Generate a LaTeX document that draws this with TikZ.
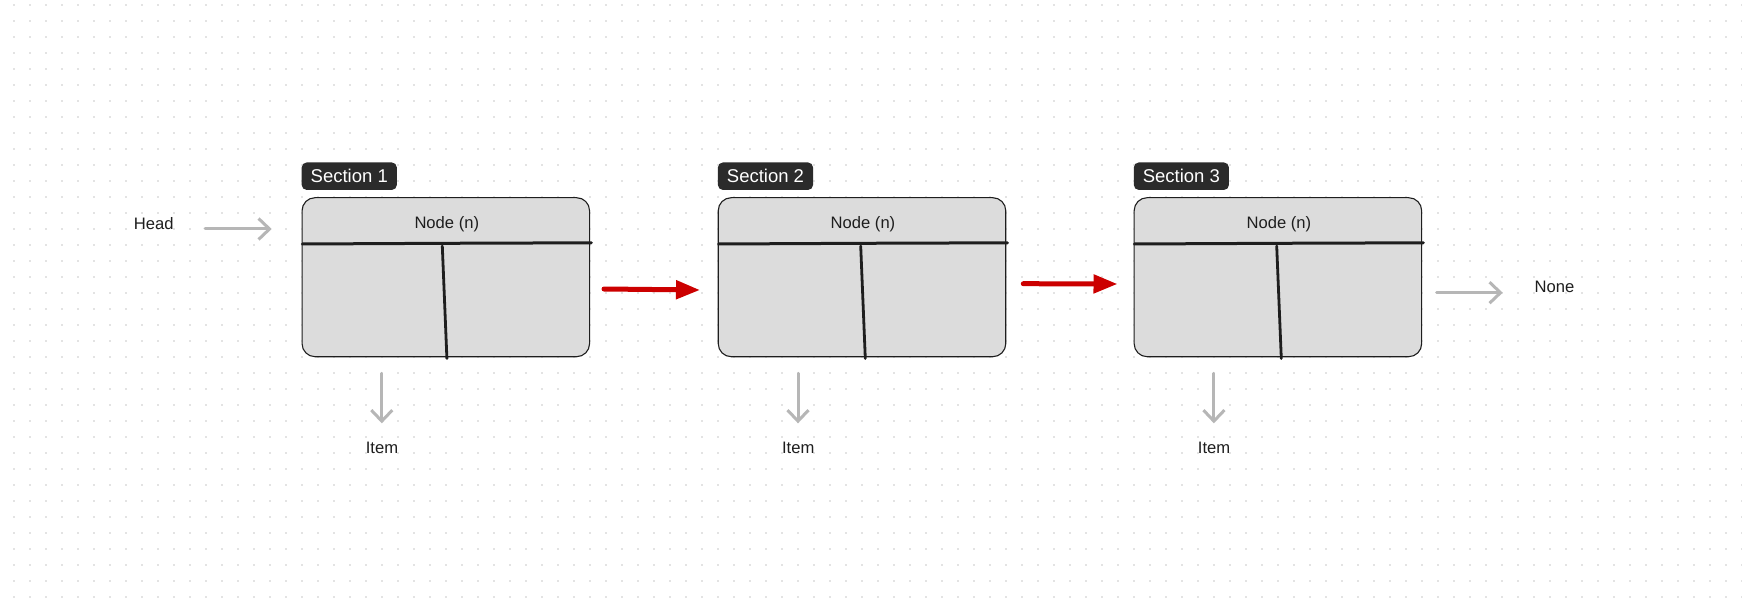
\documentclass[tikz,border=0pt]{standalone}
\usepackage{fontspec}
\setmainfont{Liberation Sans}
\usetikzlibrary{arrows.meta}

\definecolor{dotgrey}{HTML}{E3E3E3}
\definecolor{boxfill}{HTML}{DCDCDC}
\definecolor{ink}{HTML}{1E1E1E}
\definecolor{tagfill}{HTML}{2B2B2B}
\definecolor{pointer}{HTML}{CC0000}
\definecolor{soft}{HTML}{B6B6B6}

\begin{document}
\begin{tikzpicture}[x=1pt,y=-1pt,
  cell/.style={draw=ink, line width=1.1pt, fill=boxfill, rounded corners=13pt,
    minimum width=287.5pt, minimum height=159pt, inner sep=0pt},
  tag/.style={fill=tagfill, text=white, rounded corners=5pt, minimum height=27.5pt,
    inner xsep=9pt, inner ysep=0pt, font=\fontsize{18.5}{20}\selectfont, anchor=south west},
  txt/.style={text=ink, font=\fontsize{16.6}{18}\selectfont, inner sep=0pt},
  divider/.style={draw=ink, line width=3pt, line cap=round},
  nextptr/.style={draw=pointer, line width=5pt, line cap=round,
    -{Triangle[length=24pt,width=18pt]}},
  flow/.style={draw=soft, line width=3pt, line cap=round,
    -{Straight Barb[length=11pt,width=21pt]}},
]
% canvas and dotted grid
\useasboundingbox (0,0) rectangle (1742,612);
\fill[white] (0,0) rectangle (1742,612);
\foreach \r in {0,...,37}
  \draw[dotgrey, line width=1.5pt, dash pattern=on 1.5pt off 14.5pt]
    (13.25,5+16*\r) -- (1742,5+16*\r);

% the three list cells
\foreach \i/\cx/\dx in {1/445.8/-3.5, 2/862/-1.3, 3/1277.9/-1.2}{
  \node[cell] (b\i) at (\cx,277.2) {};
  \node[tag] (s\i) at ([yshift=7pt]b\i.north west) {Section \i};
  \node[txt] (n\i) at (\cx+1,224) {Node (n)};
  \draw[divider] (\cx-143.5,244) -- (\cx,243.3) -- (\cx+145.5,242.8);
  \draw[divider, line width=2.8pt] (\cx+\dx,246) -- (\cx+\dx+4.6,358.5);
  % value pointer below each cell
  \node[txt] (i\i) at (\cx-63.8,448.3) {Item};
  \coordinate (ia\i) at (\cx-64,373.3);
  \coordinate (ib\i) at (\cx-64,423.3);
  \draw[flow] (ia\i) -- (ib\i);
}

% head and tail
\node[txt] (head) at (153.7,224) {Head};
\coordinate (ha) at (205,229);
\coordinate (hb) at (271.7,229);
\draw[flow] (ha) -- (hb);

\node[txt] (none) at (1554.5,287.3) {None};
\coordinate (na) at (1436.7,292.7);
\coordinate (nb) at (1502.7,292.7);
\draw[flow] (na) -- (nb);

% next pointers between cells
\coordinate (p1a) at (604,289);
\coordinate (p1b) at (700,290);
\coordinate (p2a) at (1023.3,283.7);
\coordinate (p2b) at (1117.5,284);
\draw[nextptr] (p1a) -- (p1b);
\draw[nextptr] (p2a) -- (p2b);
\end{tikzpicture}
\end{document}
